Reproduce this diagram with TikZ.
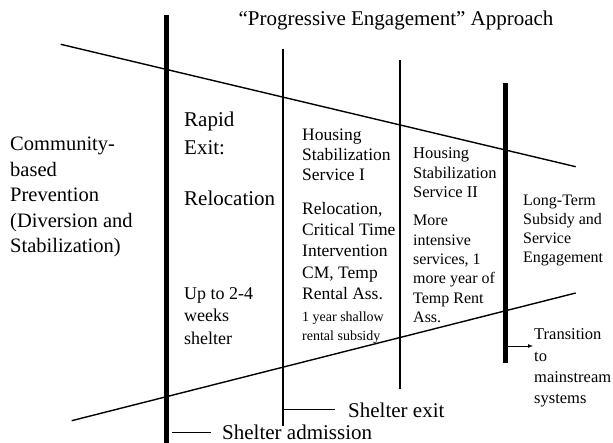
\documentclass[tikz,border=0pt]{standalone}
\usepackage{fontspec}
\setmainfont{Liberation Serif}
\usetikzlibrary{arrows}

\begin{document}
\begin{tikzpicture}[x=1pt,y=-1pt]
            \tikzstyle{txt}=[inner sep=0pt,anchor=west,align=left]
            \tikzstyle{bigbar}=[line width=5pt]
            \tikzstyle{smallbar}=[line width=1.2pt]
            \tikzstyle{slope}=[line width=1.4pt]
            \tikzstyle{pointer}=[-latex,line width=0.7pt]
            \useasboundingbox (0,0) rectangle (613,443);

            \node[inner sep=0pt,anchor=base,font=\fontsize{21}{25}\selectfont] (TTL) at (396,26) {``Progressive Engagement'' Approach};

            \coordinate (B1t) at (166.5,15);  \coordinate (B1b) at (166.5,443);
            \coordinate (B2t) at (283,49);    \coordinate (B2b) at (283,426);
            \coordinate (B3t) at (400,60);    \coordinate (B3b) at (400,389);
            \coordinate (B4t) at (505.5,83);  \coordinate (B4b) at (505.5,363);
            \coordinate (UPa) at (60.7,44.3); \coordinate (UPb) at (575.7,166.7);
            \coordinate (LOa) at (71.7,420.7);\coordinate (LOb) at (575.7,293);

            \node[txt,font=\fontsize{20.5}{25.5}\selectfont] (CBP) at (10,197) {Community-\\based\\Prevention\\(Diversion and\\Stabilization)};
            \node[txt,font=\fontsize{21}{28}\selectfont] (RE) at (184,133) {Rapid\\Exit:};
            \node[txt,font=\fontsize{21}{25}\selectfont] (REL) at (184,198) {Relocation};
            \node[txt,font=\fontsize{18}{22.5}\selectfont] (UP) at (184,316) {Up to 2-4\\weeks\\shelter};
            \node[txt,font=\fontsize{17.5}{20}\selectfont] (HS1) at (302,155) {Housing\\Stabilization\\Service I};
            \node[txt,font=\fontsize{17.5}{21.2}\selectfont] (CTI) at (302,251) {Relocation,\\Critical Time\\Intervention\\CM, Temp\\Rental Ass.};
            \node[txt,font=\fontsize{14}{19}\selectfont] (SUB) at (302,328) {1 year shallow\\rental subsidy};
            \node[txt,font=\fontsize{16.5}{19.5}\selectfont] (HS2) at (413,173) {Housing\\Stabilization\\Service II};
            \node[txt,font=\fontsize{16}{19.4}\selectfont] (MIS) at (413,269) {More\\intensive\\services, 1\\more year of\\Temp Rent\\Ass.};
            \node[txt,font=\fontsize{16}{19}\selectfont] (LT) at (523,230) {Long-Term\\Subsidy and\\Service\\Engagement};
            \node[txt,font=\fontsize{16.5}{21.3}\selectfont] (TR) at (534,368) {Transition\\to\\mainstream\\systems};
            \node[txt,font=\fontsize{21}{25}\selectfont] (SE) at (348,410) {Shelter exit};
            \node[txt,font=\fontsize{21}{25}\selectfont] (SA) at (222,432) {Shelter admission};

            \coordinate (SEs) at (283,409);
            \coordinate (SAs) at (172,432);
            \coordinate (TRs) at (508,346);
            \coordinate (TRe) at (533,346);

            \draw[bigbar] (B1t) -- (B1b) (B4t) -- (B4b);
            \draw[smallbar] (B2t) -- (B2b) (B3t) -- (B3b);
            \draw[slope] (UPa) -- (UPb) (LOa) -- (LOb);

            \draw[pointer]
                (SEs) -- ([xshift=-13pt]SE.west |- SEs)
                (SAs) -- ([xshift=-11pt]SA.west)
                (TRs) -- (TRe);
        \end{tikzpicture}
\end{document}
